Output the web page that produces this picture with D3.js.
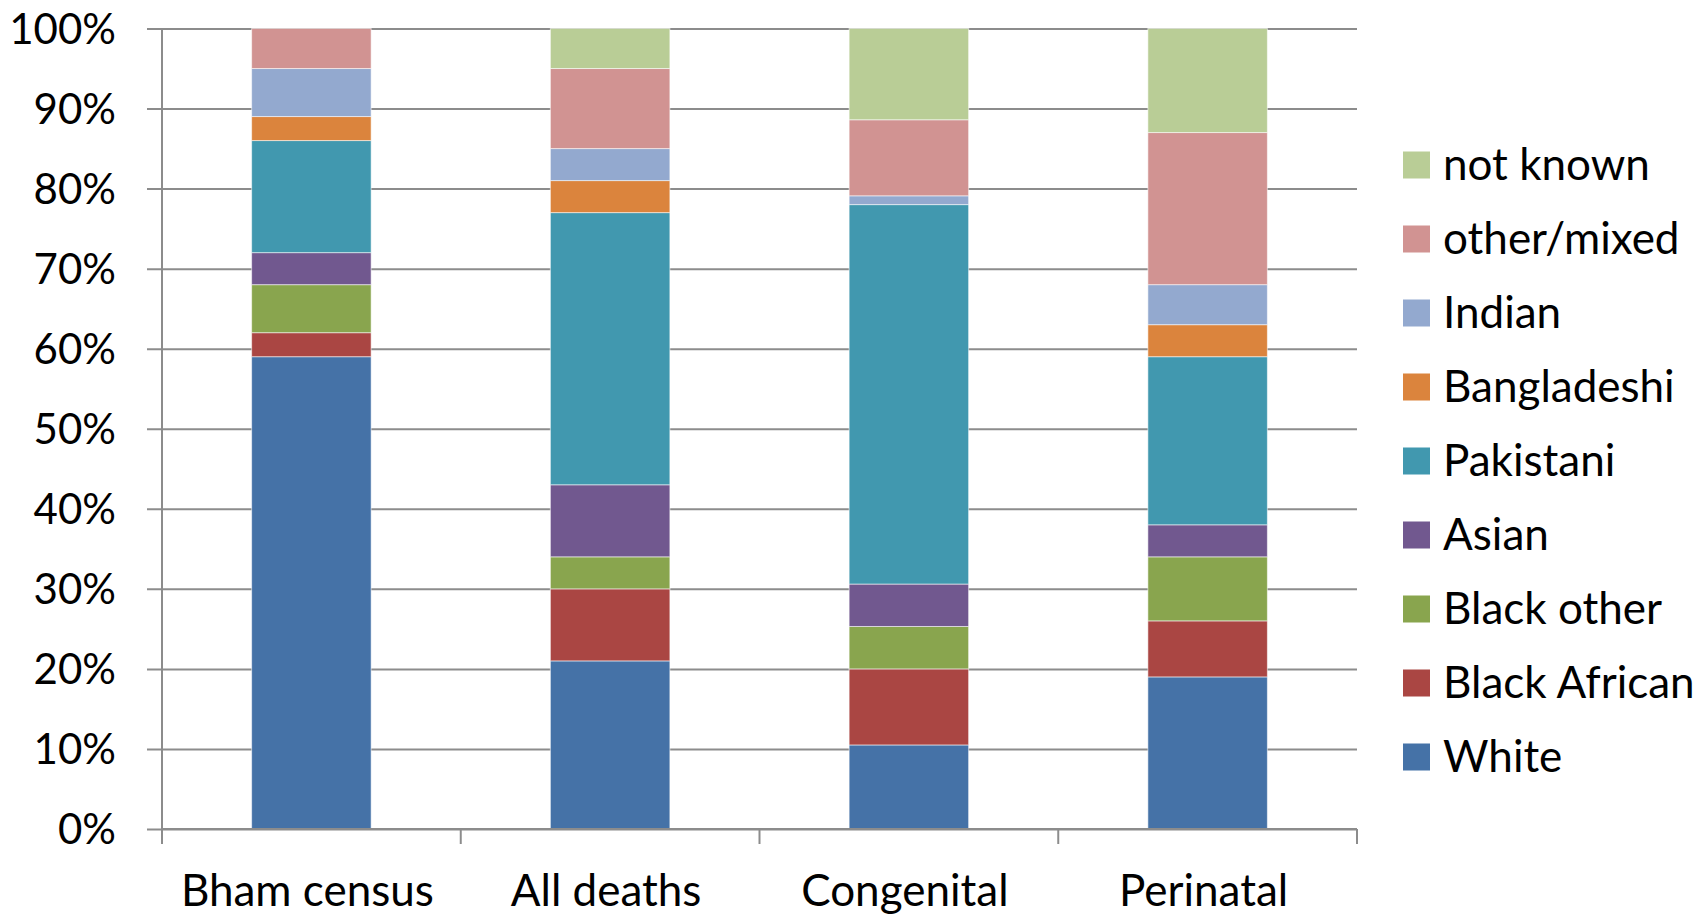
<!DOCTYPE html>
<html>
<head>
<meta charset="utf-8">
<script src="https://cdn.jsdelivr.net/npm/d3@7"></script>
<style>
  html, body { margin: 0; padding: 0; background: #fff; }
  svg { display: block; }
  text { font-family: Lato, "Open Sans", sans-serif; fill: #000; }
</style>
</head>
<body>
<svg id="chart" width="1698" height="914"></svg>
<script>
// ---- data (percent of each column) ----
const categories = ["Bham census", "All deaths", "Congenital", "Perinatal"];
const seriesNames = ["White", "Black African", "Black other", "Asian", "Pakistani", "Bangladeshi", "Indian", "other/mixed", "not known"];
const White        = [59, 21, 10.5, 19];
const BlackAfrican = [3, 9, 9.5, 7];
const BlackOther   = [6, 4, 5.3, 8];
const Asian        = [4, 9, 5.3, 4];
const Pakistani    = [14, 34, 47.4, 21];
const Bangladeshi  = [3, 4, 0, 4];
const Indian       = [6, 4, 1.1, 5];
const OtherMixed   = [5, 10, 9.5, 19];
const NotKnown     = [0, 5, 11.4, 13];
const yTicks = [0, 10, 20, 30, 40, 50, 60, 70, 80, 90, 100];
const colors = ["#4572A7", "#AA4643", "#89A54E", "#71588F", "#4198AF", "#DB843D", "#93A9CF", "#D19392", "#B9CD96"];

const seriesValues = [White, BlackAfrican, BlackOther, Asian, Pakistani, Bangladeshi, Indian, OtherMixed, NotKnown];
const table = categories.map((c, i) => {
  const row = { category: c };
  seriesNames.forEach((s, j) => row[s] = seriesValues[j][i]);
  return row;
});

const svg = d3.select("#chart");
const pLeft = 162, pRight = 1357, pTop = 28.5, pBottom = 829;

const x = d3.scaleBand().domain(categories).range([pLeft, pRight]).paddingInner(0.6).paddingOuter(0.3);
const xb = d3.scaleBand().domain(categories).range([pLeft, pRight]);
const y = d3.scaleLinear().domain([0, 100]).range([pBottom, pTop]);
const color = d3.scaleOrdinal().domain(seriesNames).range(colors);

// gridlines + y ticks
const yAxis = d3.axisLeft(y).tickValues(yTicks).tickSize(-(pRight - pLeft)).tickPadding(0).tickFormat(d => "");
const gy = svg.append("g").attr("transform", `translate(${pLeft},0)`).call(yAxis);
gy.select(".domain").remove();
gy.selectAll(".tick line").attr("stroke", "#8c8c8c").attr("stroke-width", 2).attr("x1", -15);

// y labels
svg.append("g").selectAll("text").data(yTicks).join("text")
  .attr("x", 116).attr("y", d => y(d)).attr("dy", "0.36em")
  .attr("text-anchor", "end").style("font-size", "42px")
  .text(d => d + "%");

// stacked bars
const stack = d3.stack().keys(seriesNames)(table);
svg.append("g").selectAll("g").data(stack).join("g")
  .attr("fill", d => color(d.key))
  .selectAll("rect").data(d => d).join("rect")
  .attr("x", d => x(d.data.category))
  .attr("width", x.bandwidth())
  .attr("y", d => y(d[1]))
  .attr("height", d => Math.max(0, y(d[0]) - y(d[1])))
  .attr("stroke", "rgba(255,255,255,0.55)").attr("stroke-width", 1);

// y axis line
svg.append("line").attr("x1", pLeft).attr("x2", pLeft).attr("y1", pTop).attr("y2", pBottom + 15)
  .attr("stroke", "#8c8c8c").attr("stroke-width", 2);
// x axis line
svg.append("line").attr("x1", pLeft).attr("x2", pRight).attr("y1", pBottom).attr("y2", pBottom)
  .attr("stroke", "#8c8c8c").attr("stroke-width", 2);
// category boundary ticks
const bounds = categories.map(c => xb(c)).concat([pRight]);
svg.append("g").selectAll("line").data(bounds).join("line")
  .attr("x1", d => d).attr("x2", d => d).attr("y1", pBottom).attr("y2", pBottom + 15)
  .attr("stroke", "#8c8c8c").attr("stroke-width", 2);

// x labels
svg.append("g").selectAll("text").data(categories).join("text")
  .attr("x", d => xb(d) + xb.bandwidth() / 2 - 4).attr("y", 906)
  .attr("text-anchor", "middle").style("font-size", "44px")
  .text(d => d);

// legend
const legendOrder = seriesNames.slice().reverse();
const lg = svg.append("g").selectAll("g").data(legendOrder).join("g")
  .attr("transform", (d, i) => `translate(1403,${165 + i * 74})`);
lg.append("rect").attr("x", 0).attr("y", -13.5).attr("width", 27).attr("height", 27).attr("fill", d => color(d));
lg.append("text").attr("x", 40).attr("y", 15).style("font-size", "44px").text(d => d);
</script>
</body>
</html>
